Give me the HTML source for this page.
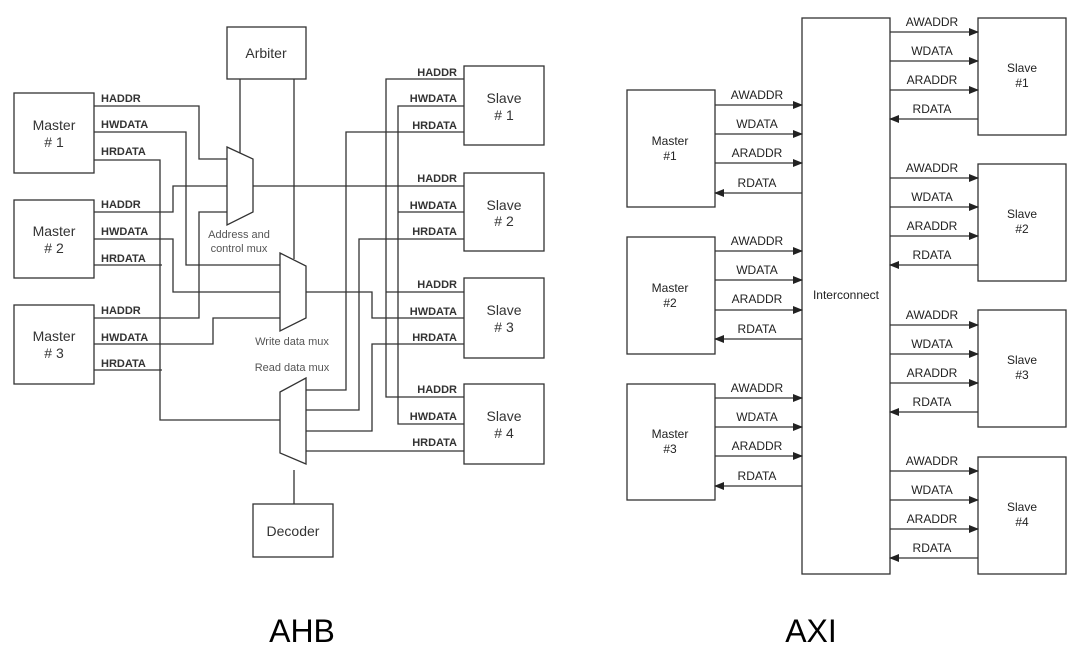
<!DOCTYPE html>
<html><head><meta charset="utf-8"><style>
html,body{margin:0;padding:0;background:#fff;}
svg{display:block;}
text{font-family:"Liberation Sans",Arial,sans-serif;}
</style></head><body>
<svg width="1082" height="660" viewBox="0 0 1082 660" xmlns="http://www.w3.org/2000/svg">
<defs>
<marker id="ar" markerWidth="10" markerHeight="8" refX="9" refY="4" orient="auto" markerUnits="userSpaceOnUse">
<path d="M0,0 L10,4 L0,8 Z" fill="#222"/></marker>
</defs>
<g fill="none" stroke="#333" stroke-width="1.3">
<!-- AHB boxes -->
<rect x="14" y="93" width="80" height="80"/>
<rect x="14" y="200" width="80" height="78"/>
<rect x="14" y="305" width="80" height="79"/>
<rect x="227" y="27" width="79" height="52"/>
<rect x="464" y="66" width="80" height="79"/>
<rect x="464" y="173" width="80" height="78"/>
<rect x="464" y="278" width="80" height="80"/>
<rect x="464" y="384" width="80" height="80"/>
<rect x="253" y="504" width="80" height="53"/>
<!-- muxes -->
<path d="M227,147 L253,159 L253,212 L227,225 Z"/>
<path d="M280,253 L306,266 L306,318 L280,331 Z"/>
<path d="M280,392 L306,378 L306,464 L280,453 Z"/>
<!-- arbiter/decoder -->
<path d="M240,79 V153"/>
<path d="M294,79 V259"/>
<path d="M294,470 V504"/>
<!-- Master1 -->
<path d="M94,106 H199 V159 H227"/>
<path d="M94,132 H186 V265 H280"/>
<path d="M94,160 H160 V420 H280"/>
<!-- Master2 -->
<path d="M94,212 H173 V186 H227"/>
<path d="M94,239 H173 V292 H280"/>
<path d="M94,265 H162"/>
<!-- Master3 -->
<path d="M94,318 H199 V212 H227"/>
<path d="M94,344 H213 V318 H280"/>
<path d="M94,370 H162"/>
<!-- right side -->
<path d="M253,186 H464"/>
<path d="M464,79 H386 V397 H464"/>
<path d="M386,292 H464"/>
<path d="M464,106 H398 V424 H464"/>
<path d="M398,212 H464"/>
<path d="M306,292 H372 V318 H464"/>
<path d="M464,132 H346 V390 H306"/>
<path d="M464,239 H359 V410 H306"/>
<path d="M464,344 H372 V431 H306"/>
<path d="M306,451 H464"/>
<!-- AXI boxes -->
<rect x="802" y="18" width="88" height="556"/>
<rect x="627" y="90" width="88" height="117"/>
<rect x="627" y="237" width="88" height="117"/>
<rect x="627" y="384" width="88" height="116"/>
<rect x="978" y="18" width="88" height="117"/>
<rect x="978" y="164" width="88" height="117"/>
<rect x="978" y="310" width="88" height="117"/>
<rect x="978" y="457" width="88" height="117"/>
</g>
<g stroke="#333" stroke-width="1.3" marker-end="url(#ar)">
<!-- masters -->
<path d="M715,105 H802"/><path d="M715,134 H802"/><path d="M715,163 H802"/><path d="M802,193 H715"/>
<path d="M715,251 H802"/><path d="M715,280 H802"/><path d="M715,310 H802"/><path d="M802,339 H715"/>
<path d="M715,398 H802"/><path d="M715,427 H802"/><path d="M715,456 H802"/><path d="M802,486 H715"/>
<!-- slaves -->
<path d="M890,32 H978"/><path d="M890,61 H978"/><path d="M890,90 H978"/><path d="M978,119 H890"/>
<path d="M890,178 H978"/><path d="M890,207 H978"/><path d="M890,236 H978"/><path d="M978,265 H890"/>
<path d="M890,325 H978"/><path d="M890,354 H978"/><path d="M890,383 H978"/><path d="M978,412 H890"/>
<path d="M890,471 H978"/><path d="M890,500 H978"/><path d="M890,529 H978"/><path d="M978,558 H890"/>
</g>
<!-- AHB text -->
<g font-size="14" fill="#333" text-anchor="middle">
<text x="54" y="130">Master</text><text x="54" y="147"># 1</text>
<text x="54" y="236">Master</text><text x="54" y="253"># 2</text>
<text x="54" y="341">Master</text><text x="54" y="358"># 3</text>
<text x="504" y="103">Slave</text><text x="504" y="120"># 1</text>
<text x="504" y="210">Slave</text><text x="504" y="226"># 2</text>
<text x="504" y="315">Slave</text><text x="504" y="332"># 3</text>
<text x="504" y="421">Slave</text><text x="504" y="438"># 4</text>
<text x="266" y="58">Arbiter</text>
<text x="293" y="536">Decoder</text>
</g>
<g font-size="11" fill="#555" text-anchor="middle">
<text x="239" y="238">Address and</text><text x="239" y="252">control mux</text>
<text x="292" y="345">Write data mux</text>
<text x="292" y="371">Read data mux</text>
</g>
<g font-size="11" font-weight="bold" fill="#333">
<text x="101" y="102">HADDR</text><text x="101" y="128">HWDATA</text><text x="101" y="155">HRDATA</text>
<text x="101" y="208">HADDR</text><text x="101" y="235">HWDATA</text><text x="101" y="262">HRDATA</text>
<text x="101" y="314">HADDR</text><text x="101" y="341">HWDATA</text><text x="101" y="367">HRDATA</text>
</g>
<g font-size="11" font-weight="bold" fill="#333" text-anchor="end">
<text x="457" y="76">HADDR</text><text x="457" y="102">HWDATA</text><text x="457" y="129">HRDATA</text>
<text x="457" y="182">HADDR</text><text x="457" y="209">HWDATA</text><text x="457" y="235">HRDATA</text>
<text x="457" y="288">HADDR</text><text x="457" y="315">HWDATA</text><text x="457" y="341">HRDATA</text>
<text x="457" y="393">HADDR</text><text x="457" y="420">HWDATA</text><text x="457" y="446">HRDATA</text>
</g>
<!-- AXI text -->
<g font-size="12" fill="#222" text-anchor="middle">
<text x="670" y="145">Master</text><text x="670" y="160">#1</text>
<text x="670" y="292">Master</text><text x="670" y="307">#2</text>
<text x="670" y="438">Master</text><text x="670" y="453">#3</text>
<text x="1022" y="72">Slave</text><text x="1022" y="87">#1</text>
<text x="1022" y="218">Slave</text><text x="1022" y="233">#2</text>
<text x="1022" y="364">Slave</text><text x="1022" y="379">#3</text>
<text x="1022" y="511">Slave</text><text x="1022" y="526">#4</text>
<text x="846" y="299">Interconnect</text>
</g>
<g font-size="12" fill="#222" text-anchor="middle">
<text x="757" y="99">AWADDR</text><text x="757" y="128">WDATA</text><text x="757" y="157">ARADDR</text><text x="757" y="187">RDATA</text>
<text x="757" y="245">AWADDR</text><text x="757" y="274">WDATA</text><text x="757" y="303">ARADDR</text><text x="757" y="333">RDATA</text>
<text x="757" y="392">AWADDR</text><text x="757" y="421">WDATA</text><text x="757" y="450">ARADDR</text><text x="757" y="480">RDATA</text>
<text x="932" y="26">AWADDR</text><text x="932" y="55">WDATA</text><text x="932" y="84">ARADDR</text><text x="932" y="113">RDATA</text>
<text x="932" y="172">AWADDR</text><text x="932" y="201">WDATA</text><text x="932" y="230">ARADDR</text><text x="932" y="259">RDATA</text>
<text x="932" y="319">AWADDR</text><text x="932" y="348">WDATA</text><text x="932" y="377">ARADDR</text><text x="932" y="406">RDATA</text>
<text x="932" y="465">AWADDR</text><text x="932" y="494">WDATA</text><text x="932" y="523">ARADDR</text><text x="932" y="552">RDATA</text>
</g>
<g font-size="32" fill="#000" text-anchor="middle">
<text x="302" y="642">AHB</text>
<text x="811" y="642">AXI</text>
</g>
</svg>
</body></html>
